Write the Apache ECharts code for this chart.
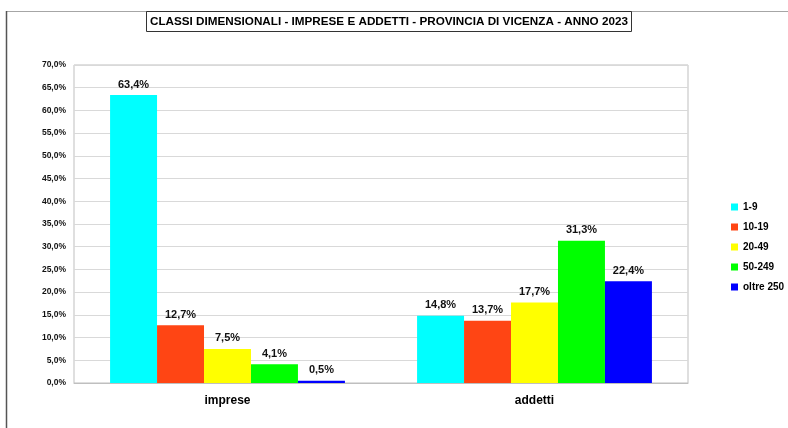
<!DOCTYPE html>
<html>
<head>
<meta charset="utf-8">
<script src="https://cdn.jsdelivr.net/npm/echarts@6/dist/echarts.min.js"></script>
<style>
  html, body { margin: 0; padding: 0; background: #fff; }
  #main { width: 788px; height: 428px; }
</style>
</head>
<body>
<div id="main"></div>
<script>
// categories on the x axis
var categories = ['imprese', 'addetti'];

// size classes (legend) and their values in percent
var classes = ['1-9', '10-19', '20-49', '50-249', 'oltre 250'];
var vals_1_9 = [63.4, 14.8];
var vals_10_19 = [12.7, 13.7];
var vals_20_49 = [7.5, 17.7];
var vals_50_249 = [4.1, 31.3];
var vals_oltre250 = [0.5, 22.4];

var colors = ['#00FFFF', '#FF4514', '#FFFF00', '#00FF00', '#0000FF'];

var font = "'Liberation Sans', sans-serif";

var myChart = echarts.init(document.getElementById('main'));

function pct(v) {
    return v.toFixed(1).replace('.', ',') + '%';
}

function makeSeries(name, data, color) {
    return {
        name: name,
        type: 'bar',
        data: data,
        barGap: '0%',
        barCategoryGap: '23.5%',
        itemStyle: { color: color },
        label: {
            show: true,
            position: 'top',
            distance: 5,
            fontFamily: font,
            fontWeight: 'bold',
            fontSize: 11,
            color: '#111',
            formatter: function(p) { return pct(p.value); }
        }
    };
}

var allVals = [vals_1_9, vals_10_19, vals_20_49, vals_50_249, vals_oltre250];
var series = [];
for (var i = 0; i < classes.length; i++) {
    series.push(makeSeries(classes[i], allVals[i], colors[i]));
}

var option = {
    animation: false,
    backgroundColor: '#fff',
    title: {
        text: 'CLASSI DIMENSIONALI - IMPRESE E ADDETTI - PROVINCIA DI VICENZA - ANNO 2023',
        left: 146,
        top: 11,
        borderColor: '#333',
        borderWidth: 1,
        padding: [5, 4, 4, 4],
        textStyle: {
            fontFamily: font,
            fontWeight: 'bold',
            fontSize: 11.7,
            color: '#000'
        }
    },
    legend: {
        orient: 'vertical',
        left: 726,
        top: 197,
        itemWidth: 7,
        itemHeight: 7,
        itemGap: 10,
        icon: 'rect',
        data: classes,
        textStyle: {
            fontFamily: font,
            fontWeight: 'bold',
            fontSize: 10,
            color: '#000'
        }
    },
    grid: {
        left: 74,
        top: 65,
        width: 614,
        height: 318,
        show: true,
        borderColor: '#bfbfbf',
        borderWidth: 1
    },
    xAxis: {
        type: 'category',
        data: categories,
        axisLine: { show: true, lineStyle: { color: '#bfbfbf' } },
        axisTick: { show: false },
        axisLabel: {
            margin: 12,
            fontFamily: font,
            fontWeight: 'bold',
            fontSize: 12,
            color: '#000'
        }
    },
    yAxis: {
        type: 'value',
        min: 0,
        max: 70,
        interval: 5,
        axisLine: { show: false },
        axisTick: { show: false },
        splitLine: { lineStyle: { color: '#d9d9d9' } },
        axisLabel: {
            margin: 8,
            fontFamily: font,
            fontWeight: 'bold',
            fontSize: 8.5,
            color: '#111',
            formatter: function(v) { return pct(v); }
        }
    },
    graphic: [
        { type: 'line', shape: { x1: 6, y1: 11.5, x2: 788, y2: 11.5 }, style: { stroke: '#a6a6a6', lineWidth: 1 } },
        { type: 'line', shape: { x1: 6.5, y1: 11, x2: 6.5, y2: 428 }, style: { stroke: '#555', lineWidth: 1.5 } }
    ],
    series: series
};

myChart.setOption(option);
</script>
</body>
</html>
